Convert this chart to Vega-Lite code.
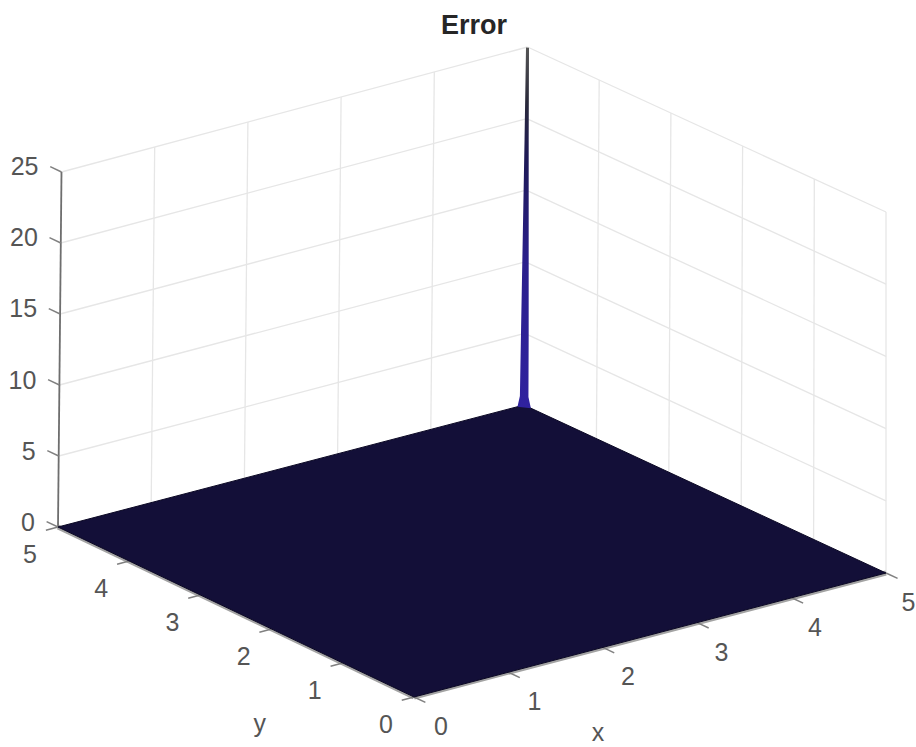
{
"$schema":"https://vega.github.io/schema/vega-lite/v6.json",
"width":916,"height":747,"autosize":"none","padding":0,
"background":"white",
"title":{"text":"Error","orient":"top","anchor":"middle","frame":"group","offset":-40,"dx":16,"font":"Liberation Sans","fontSize":27,"fontWeight":"bold","color":"#262626"},
"config":{"view":{"stroke":null}},
"datasets":{
"grid":[
{"x":1,"y":5,"z":0,"x2":1,"y2":5,"z2":25},
{"x":2,"y":5,"z":0,"x2":2,"y2":5,"z2":25},
{"x":3,"y":5,"z":0,"x2":3,"y2":5,"z2":25},
{"x":4,"y":5,"z":0,"x2":4,"y2":5,"z2":25},
{"x":0,"y":5,"z":5,"x2":5,"y2":5,"z2":5},
{"x":0,"y":5,"z":10,"x2":5,"y2":5,"z2":10},
{"x":0,"y":5,"z":15,"x2":5,"y2":5,"z2":15},
{"x":0,"y":5,"z":20,"x2":5,"y2":5,"z2":20},
{"x":0,"y":5,"z":25,"x2":5,"y2":5,"z2":25},
{"x":5,"y":0,"z":0,"x2":5,"y2":0,"z2":25},
{"x":5,"y":1,"z":0,"x2":5,"y2":1,"z2":25},
{"x":5,"y":2,"z":0,"x2":5,"y2":2,"z2":25},
{"x":5,"y":3,"z":0,"x2":5,"y2":3,"z2":25},
{"x":5,"y":4,"z":0,"x2":5,"y2":4,"z2":25},
{"x":5,"y":0,"z":5,"x2":5,"y2":5,"z2":5},
{"x":5,"y":0,"z":10,"x2":5,"y2":5,"z2":10},
{"x":5,"y":0,"z":15,"x2":5,"y2":5,"z2":15},
{"x":5,"y":0,"z":20,"x2":5,"y2":5,"z2":20},
{"x":5,"y":0,"z":25,"x2":5,"y2":5,"z2":25}
],
"floor":[
{"x":0,"y":0,"z":0,"x2":5,"y2":0,"z2":0},
{"x":0,"y":0,"z":0,"x2":0,"y2":5,"z2":0}
],
"zaxis":[
{"x":0,"y":5,"z":0,"x2":0,"y2":5,"z2":25}
],
"ticks":[
{"x":0,"y":0,"z":0,"x2":0,"y2":-0.16,"z2":0},
{"x":1,"y":0,"z":0,"x2":1,"y2":-0.16,"z2":0},
{"x":2,"y":0,"z":0,"x2":2,"y2":-0.16,"z2":0},
{"x":3,"y":0,"z":0,"x2":3,"y2":-0.16,"z2":0},
{"x":4,"y":0,"z":0,"x2":4,"y2":-0.16,"z2":0},
{"x":5,"y":0,"z":0,"x2":5,"y2":-0.16,"z2":0},
{"x":0,"y":0,"z":0,"x2":-0.13,"y2":0,"z2":0},
{"x":0,"y":1,"z":0,"x2":-0.13,"y2":1,"z2":0},
{"x":0,"y":2,"z":0,"x2":-0.13,"y2":2,"z2":0},
{"x":0,"y":3,"z":0,"x2":-0.13,"y2":3,"z2":0},
{"x":0,"y":4,"z":0,"x2":-0.13,"y2":4,"z2":0},
{"x":0,"y":5,"z":0,"x2":-0.13,"y2":5,"z2":0},
{"x":0,"y":5,"z":0,"x2":0,"y2":5.16,"z2":0},
{"x":0,"y":5,"z":5,"x2":0,"y2":5.16,"z2":5},
{"x":0,"y":5,"z":10,"x2":0,"y2":5.16,"z2":10},
{"x":0,"y":5,"z":15,"x2":0,"y2":5.16,"z2":15},
{"x":0,"y":5,"z":20,"x2":0,"y2":5.16,"z2":20},
{"x":0,"y":5,"z":25,"x2":0,"y2":5.16,"z2":25}
],
"surface":[
{"patch":"plane","o":0,"x":0,"y":0,"z":0},
{"patch":"plane","o":1,"x":5,"y":0,"z":0},
{"patch":"plane","o":2,"x":5,"y":5,"z":0},
{"patch":"plane","o":3,"x":0,"y":5,"z":0}
],
"spike":[
{"patch":"peak","o":0,"x":4.93,"y":5,"z":0},
{"patch":"peak","o":1,"x":4.955,"y":5,"z":0.7},
{"patch":"peak","o":2,"x":4.96,"y":5,"z":5},
{"patch":"peak","o":3,"x":4.978,"y":5,"z":18.6},
{"patch":"peak","o":4,"x":4.984,"y":5,"z":25},
{"patch":"peak","o":5,"x":5,"y":4.979,"z":25},
{"patch":"peak","o":6,"x":5,"y":4.971,"z":18.6},
{"patch":"peak","o":7,"x":5,"y":4.945,"z":5},
{"patch":"peak","o":8,"x":5,"y":4.94,"z":0.7},
{"patch":"peak","o":9,"x":5,"y":4.905,"z":0}
],
"xlabels":[{"t":"0","x":0},{"t":"1","x":1},{"t":"2","x":2},{"t":"3","x":3},{"t":"4","x":4},{"t":"5","x":5}],
"ylabels":[{"t":"0","y":0},{"t":"1","y":1},{"t":"2","y":2},{"t":"3","y":3},{"t":"4","y":4},{"t":"5","y":5}],
"zlabels":[{"t":"0","z":0},{"t":"5","z":5},{"t":"10","z":10},{"t":"15","z":15},{"t":"20","z":20},{"t":"25","z":25}],
"titles":[{"t":"x","x":0.74,"y":-1.6,"z":0},{"t":"y","x":-1.44,"y":0.26,"z":0}]
},
"layer":[
{"data":{"name":"grid"},
"transform":[
{"calculate":"414+94.4*datum.x-71.2*datum.y-0.24*datum.x*datum.y+0.028*datum.y*datum.z","as":"sx"},
{"calculate":"697-24.8*datum.x-34*datum.y+0.08*datum.x*datum.y-datum.z*(14.32+0.024*datum.x-0.024*datum.y)","as":"sy"},
{"calculate":"414+94.4*datum.x2-71.2*datum.y2-0.24*datum.x2*datum.y2+0.028*datum.y2*datum.z2","as":"sx2"},
{"calculate":"697-24.8*datum.x2-34*datum.y2+0.08*datum.x2*datum.y2-datum.z2*(14.32+0.024*datum.x2-0.024*datum.y2)","as":"sy2"}
],
"mark":{"type":"rule","clip":false,"color":"#e6e6e6","strokeWidth":1.3},
"encoding":{
"x":{"field":"sx","type":"quantitative","scale":{"domain":[0,916],"nice":false,"zero":false},"axis":null},
"y":{"field":"sy","type":"quantitative","scale":{"domain":[747,0],"nice":false,"zero":false},"axis":null},
"x2":{"field":"sx2"},"y2":{"field":"sy2"}
}},
{"data":{"name":"floor"},
"transform":[
{"calculate":"414+94.4*datum.x-71.2*datum.y-0.24*datum.x*datum.y+0.028*datum.y*datum.z","as":"sx"},
{"calculate":"697-24.8*datum.x-34*datum.y+0.08*datum.x*datum.y-datum.z*(14.32+0.024*datum.x-0.024*datum.y)","as":"sy"},
{"calculate":"414+94.4*datum.x2-71.2*datum.y2-0.24*datum.x2*datum.y2+0.028*datum.y2*datum.z2","as":"sx2"},
{"calculate":"697-24.8*datum.x2-34*datum.y2+0.08*datum.x2*datum.y2-datum.z2*(14.32+0.024*datum.x2-0.024*datum.y2)","as":"sy2"}
],
"mark":{"type":"rule","clip":false,"color":"#a3a3a3","strokeWidth":5},
"encoding":{
"x":{"field":"sx","type":"quantitative","scale":{"domain":[0,916],"nice":false,"zero":false},"axis":null},
"y":{"field":"sy","type":"quantitative","scale":{"domain":[747,0],"nice":false,"zero":false},"axis":null},
"x2":{"field":"sx2"},"y2":{"field":"sy2"}
}},
{"data":{"name":"zaxis"},
"transform":[
{"calculate":"414+94.4*datum.x-71.2*datum.y-0.24*datum.x*datum.y+0.028*datum.y*datum.z","as":"sx"},
{"calculate":"697-24.8*datum.x-34*datum.y+0.08*datum.x*datum.y-datum.z*(14.32+0.024*datum.x-0.024*datum.y)","as":"sy"},
{"calculate":"414+94.4*datum.x2-71.2*datum.y2-0.24*datum.x2*datum.y2+0.028*datum.y2*datum.z2","as":"sx2"},
{"calculate":"697-24.8*datum.x2-34*datum.y2+0.08*datum.x2*datum.y2-datum.z2*(14.32+0.024*datum.x2-0.024*datum.y2)","as":"sy2"}
],
"mark":{"type":"rule","clip":false,"color":"#6e6e6e","strokeWidth":1.8},
"encoding":{
"x":{"field":"sx","type":"quantitative","scale":{"domain":[0,916],"nice":false,"zero":false},"axis":null},
"y":{"field":"sy","type":"quantitative","scale":{"domain":[747,0],"nice":false,"zero":false},"axis":null},
"x2":{"field":"sx2"},"y2":{"field":"sy2"}
}},
{"data":{"name":"ticks"},
"transform":[
{"calculate":"414+94.4*datum.x-71.2*datum.y-0.24*datum.x*datum.y+0.028*datum.y*datum.z","as":"sx"},
{"calculate":"697-24.8*datum.x-34*datum.y+0.08*datum.x*datum.y-datum.z*(14.32+0.024*datum.x-0.024*datum.y)","as":"sy"},
{"calculate":"414+94.4*datum.x2-71.2*datum.y2-0.24*datum.x2*datum.y2+0.028*datum.y2*datum.z2","as":"sx2"},
{"calculate":"697-24.8*datum.x2-34*datum.y2+0.08*datum.x2*datum.y2-datum.z2*(14.32+0.024*datum.x2-0.024*datum.y2)","as":"sy2"}
],
"mark":{"type":"rule","clip":false,"color":"#808080","strokeWidth":1.5},
"encoding":{
"x":{"field":"sx","type":"quantitative","scale":{"domain":[0,916],"nice":false,"zero":false},"axis":null},
"y":{"field":"sy","type":"quantitative","scale":{"domain":[747,0],"nice":false,"zero":false},"axis":null},
"x2":{"field":"sx2"},"y2":{"field":"sy2"}
}},
{"data":{"name":"surface"},
"transform":[
{"calculate":"414+94.4*datum.x-71.2*datum.y-0.24*datum.x*datum.y+0.028*datum.y*datum.z","as":"sx"},
{"calculate":"697-24.8*datum.x-34*datum.y+0.08*datum.x*datum.y-datum.z*(14.32+0.024*datum.x-0.024*datum.y)","as":"sy"}
],
"mark":{"type":"line","interpolate":"linear-closed","fill":"#130f38","stroke":"#0b0824","strokeWidth":1,"clip":false},
"encoding":{
"x":{"field":"sx","type":"quantitative","scale":{"domain":[0,916],"nice":false,"zero":false},"axis":null},
"y":{"field":"sy","type":"quantitative","scale":{"domain":[747,0],"nice":false,"zero":false},"axis":null},
"order":{"field":"o"},"detail":{"field":"patch"}
}},
{"data":{"name":"spike"},
"transform":[
{"calculate":"414+94.4*datum.x-71.2*datum.y-0.24*datum.x*datum.y+0.028*datum.y*datum.z","as":"sx"},
{"calculate":"697-24.8*datum.x-34*datum.y+0.08*datum.x*datum.y-datum.z*(14.32+0.024*datum.x-0.024*datum.y)","as":"sy"}
],
"mark":{"type":"line","interpolate":"linear-closed","fill":{"gradient":"linear","x1":0,"y1":0,"x2":0,"y2":1,"stops":[{"offset":0,"color":"#555555"},{"offset":0.15,"color":"#2a2a3a"},{"offset":0.3,"color":"#1e1a55"},{"offset":0.6,"color":"#2a1f8c"},{"offset":1,"color":"#30229f"}]},"strokeWidth":0,"clip":false},
"encoding":{
"x":{"field":"sx","type":"quantitative","scale":{"domain":[0,916],"nice":false,"zero":false},"axis":null},
"y":{"field":"sy","type":"quantitative","scale":{"domain":[747,0],"nice":false,"zero":false},"axis":null},
"order":{"field":"o"},"detail":{"field":"patch"}
}},
{"data":{"name":"xlabels"},
"transform":[
{"calculate":"414+93.5*datum.x","as":"sx"},
{"calculate":"697-24.8*datum.x","as":"sy"}
],
"mark":{"type":"text","font":"Liberation Sans","fontSize":25,"color":"#555555","dx":27,"dy":30,"align":"center","baseline":"middle","clip":false},
"encoding":{
"x":{"field":"sx","type":"quantitative","scale":{"domain":[0,916],"nice":false,"zero":false},"axis":null},
"y":{"field":"sy","type":"quantitative","scale":{"domain":[747,0],"nice":false,"zero":false},"axis":null},
"text":{"field":"t"}
}},
{"data":{"name":"ylabels"},
"transform":[
{"calculate":"414-71.2*datum.y","as":"sx"},
{"calculate":"697-34*datum.y","as":"sy"}
],
"mark":{"type":"text","font":"Liberation Sans","fontSize":25,"color":"#555555","dx":-28,"dy":28,"align":"center","baseline":"middle","clip":false},
"encoding":{
"x":{"field":"sx","type":"quantitative","scale":{"domain":[0,916],"nice":false,"zero":false},"axis":null},
"y":{"field":"sy","type":"quantitative","scale":{"domain":[747,0],"nice":false,"zero":false},"axis":null},
"text":{"field":"t"}
}},
{"data":{"name":"zlabels"},
"transform":[
{"calculate":"58+0.14*datum.z","as":"sx"},
{"calculate":"527-14.24*datum.z","as":"sy"}
],
"mark":{"type":"text","font":"Liberation Sans","fontSize":25,"color":"#555555","dx":-23,"dy":-4,"align":"right","baseline":"middle","clip":false},
"encoding":{
"x":{"field":"sx","type":"quantitative","scale":{"domain":[0,916],"nice":false,"zero":false},"axis":null},
"y":{"field":"sy","type":"quantitative","scale":{"domain":[747,0],"nice":false,"zero":false},"axis":null},
"text":{"field":"t"}
}},
{"data":{"name":"titles"},
"transform":[
{"calculate":"414+94.4*datum.x-71.2*datum.y-0.24*datum.x*datum.y","as":"sx"},
{"calculate":"697-24.8*datum.x-34*datum.y+0.08*datum.x*datum.y","as":"sy"}
],
"mark":{"type":"text","font":"Liberation Sans","fontSize":25,"color":"#555555","align":"center","baseline":"middle","clip":false},
"encoding":{
"x":{"field":"sx","type":"quantitative","scale":{"domain":[0,916],"nice":false,"zero":false},"axis":null},
"y":{"field":"sy","type":"quantitative","scale":{"domain":[747,0],"nice":false,"zero":false},"axis":null},
"text":{"field":"t"}
}}
]
}
